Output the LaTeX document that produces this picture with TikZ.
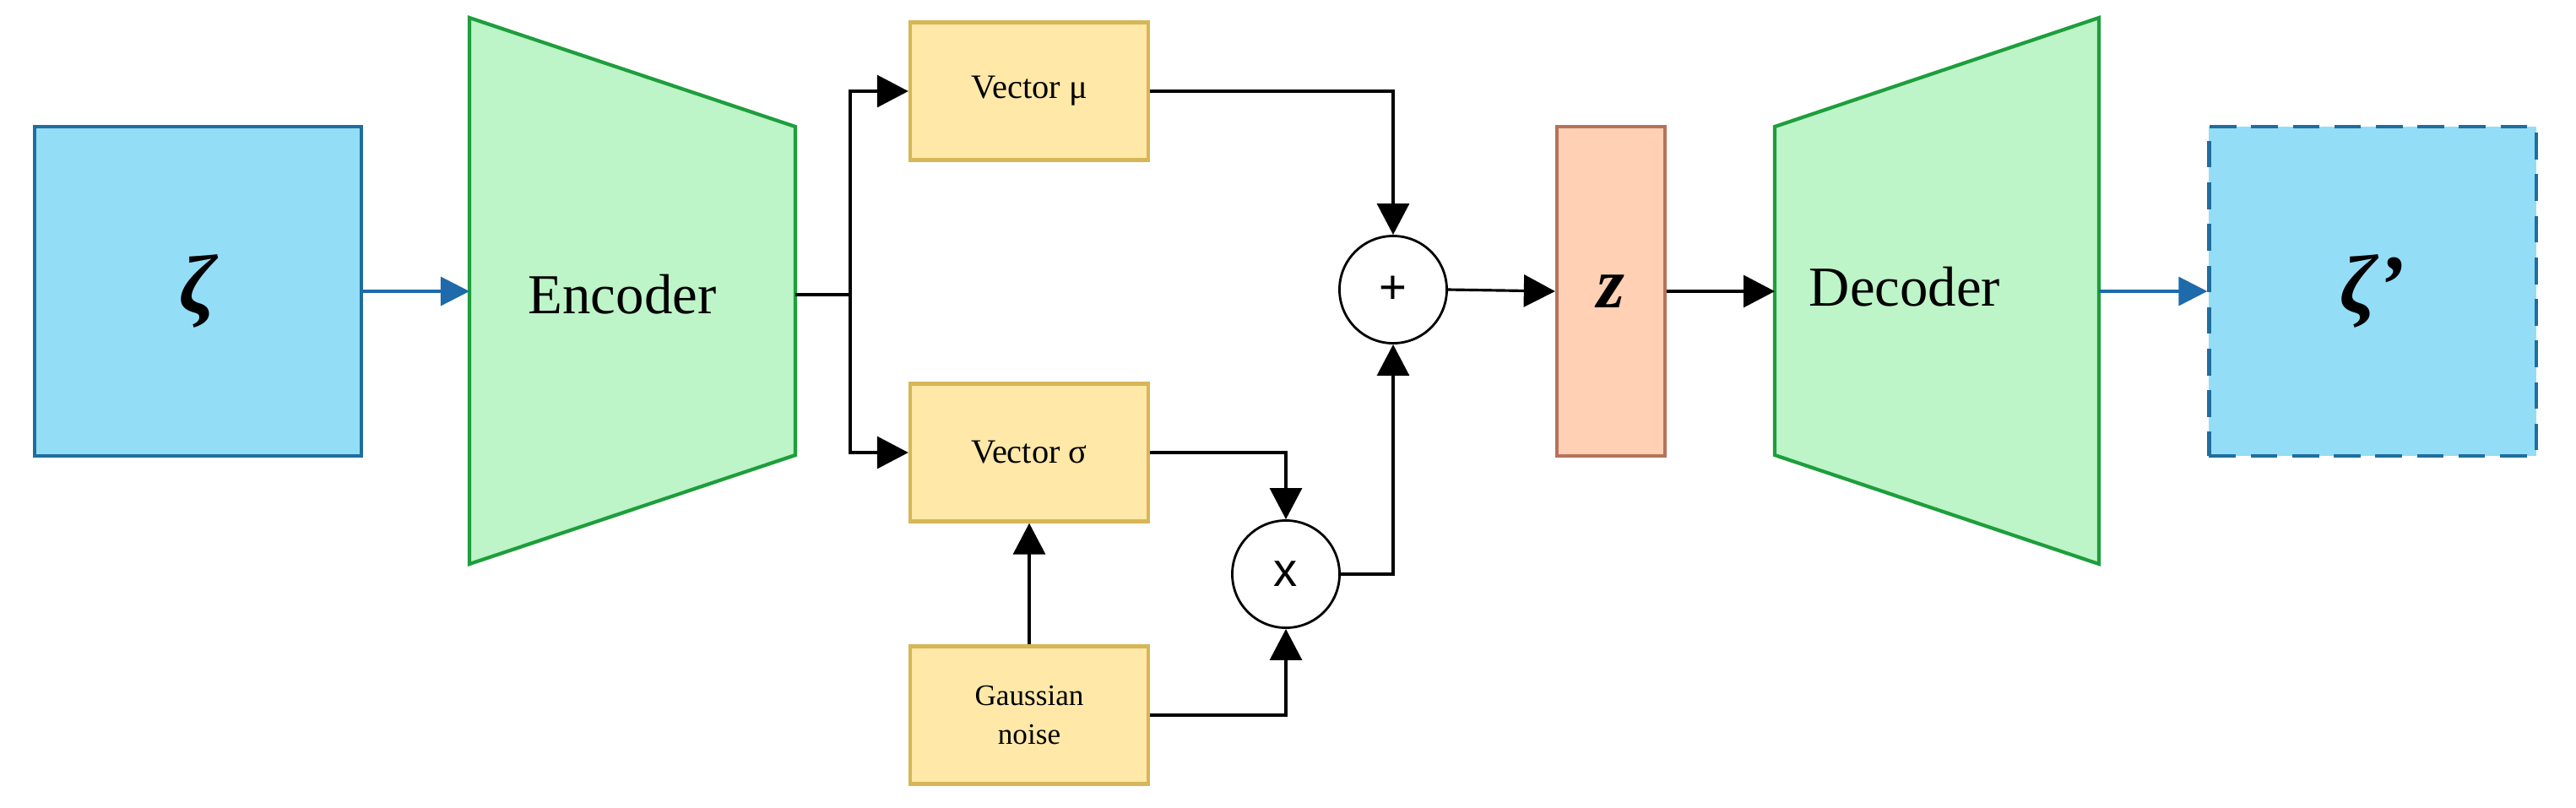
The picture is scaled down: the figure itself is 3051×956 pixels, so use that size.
\documentclass[tikz,border=0pt]{standalone}
\usepackage{fontspec}
\setmainfont{Liberation Serif}
\newfontfamily\sansf{Liberation Sans}
\usetikzlibrary{arrows.meta}
\definecolor{bfill}{HTML}{94DDF7}\definecolor{bdraw}{HTML}{1F6E9E}
\definecolor{gfill}{HTML}{BDF4C8}\definecolor{gdraw}{HTML}{1E9E3C}
\definecolor{yfill}{HTML}{FFE8A8}\definecolor{ydraw}{HTML}{D6B656}
\definecolor{ofill}{HTML}{FFD0B4}\definecolor{odraw}{HTML}{B5735A}
\definecolor{barrow}{HTML}{1E6AAA}
\begin{document}
\begin{tikzpicture}[x=0.01cm,y=-0.01cm,
  blk/.style={line width=0.9pt,-{Triangle[length=0.37cm,width=0.38cm]}},
  blu/.style={line width=0.9pt,draw=barrow,-{Triangle[fill=barrow,length=0.34cm,width=0.34cm]}},
  vec/.style={draw=ydraw,fill=yfill,line width=1.2pt,minimum width=2.82cm,minimum height=1.63cm,inner sep=0pt,font=\fontsize{11.5}{13}\selectfont},
  op/.style={circle,draw,line width=0.8pt,minimum size=1.27cm,inner sep=0pt,font=\sansf\fontsize{16}{18}\selectfont},
  big/.style={draw=bdraw,fill=bfill,line width=1.2pt,minimum width=3.87cm,minimum height=3.9cm,inner sep=0pt,font=\fontsize{28}{30}\selectfont\bfseries\itshape}]
\useasboundingbox (0,0) rectangle (3051,956);
\node[big] (zeta) at (234.5,345) {ζ};
\node[big,dashed,dash pattern=on 9pt off 5pt] (zetap) at (2810,345) {ζ’};
\coordinate (e1) at (556,21);\coordinate (e2) at (942,150);\coordinate (e3) at (942,539);\coordinate (e4) at (556,668);
\draw[draw=gdraw,fill=gfill,line width=1.2pt] (e1)--(e2)--(e3)--(e4)--cycle;
\node[font=\fontsize{19}{21}\selectfont] (enc) at (737,349) {Encoder};
\coordinate (ein) at (556,345);\coordinate (eout) at (942,349);
\coordinate (d1) at (2102,150);\coordinate (d2) at (2486,21);\coordinate (d3) at (2486,668);\coordinate (d4) at (2102,539);
\draw[draw=gdraw,fill=gfill,line width=1.2pt] (d1)--(d2)--(d3)--(d4)--cycle;
\node[font=\fontsize{19}{21}\selectfont] (dec) at (2256,340) {Decoder};
\coordinate (din) at (2102,345);\coordinate (dout) at (2486,345);
\node[vec] (mu) at (1219,108) {Vector μ};
\node[vec] (sig) at (1219,536) {Vector σ};
\node[vec,font=\fontsize{10}{13}\selectfont,align=center] (gn) at (1219,847) {Gaussian\\noise};
\node[op] (plus) at (1650,343) {+};
\node[op] (times) at (1523,680) {x};
\node[draw=odraw,fill=ofill,line width=1.2pt,minimum width=1.28cm,minimum height=3.9cm,inner sep=0pt,font=\fontsize{24}{26}\selectfont\bfseries\itshape] (z) at (1908,345) {z};
\coordinate (j) at (1007,349);
\draw[blu] (zeta.east) -- (ein);
\draw[blu] (dout) -- (zetap.west);
\draw[line width=1.1pt] (eout) -- (j);
\draw[blk] (j) |- (mu.west);
\draw[blk] (j) |- (sig.west);
\draw[blk] (mu.east) -| (plus.north);
\draw[blk] (sig.east) -| (times.north);
\draw[blk] (gn.east) -| (times.south);
\draw[blk] (gn.north) -- (sig.south);
\draw[blk] (times.east) -| (plus.south);
\draw[blk] (plus.east) -- (z.west);
\draw[blk] (z.east) -- (din);
\end{tikzpicture}
\end{document}
